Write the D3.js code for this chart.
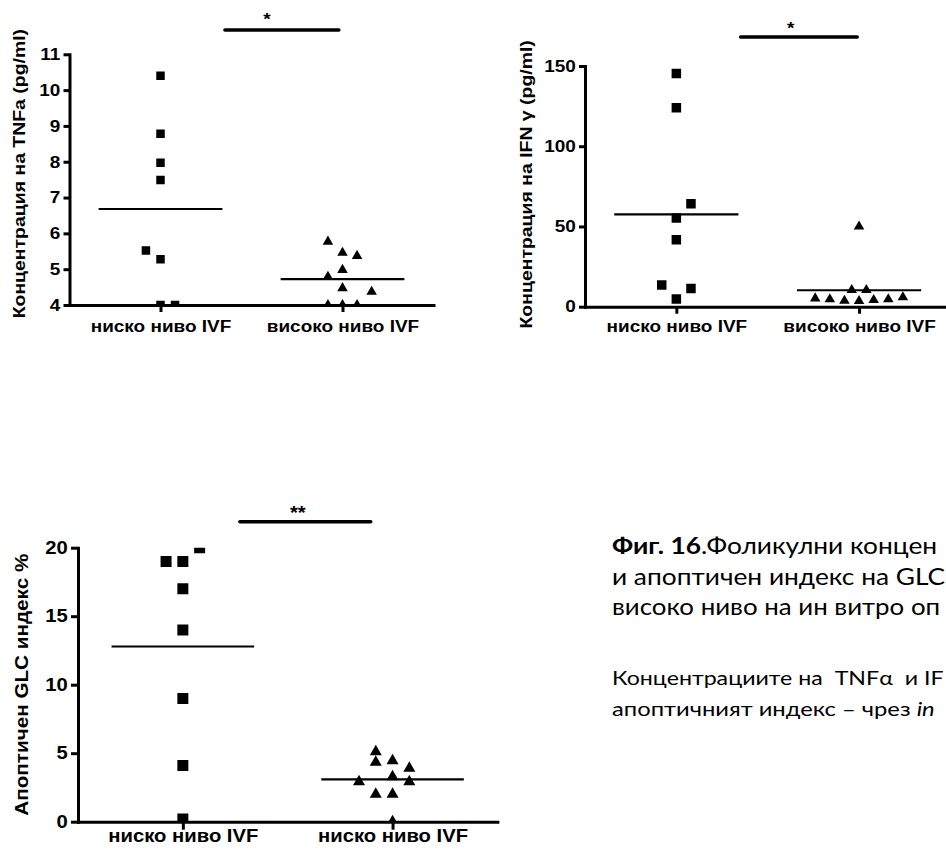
<!DOCTYPE html>
<html lang="bg">
<head>
    <meta charset="UTF-8">
    <title>Фиг. 16</title>
    <script src="https://d3js.org/d3.v7.min.js"></script>
    <style>
        body {
            margin: 0;
            background: #fff;
        }

        svg {
            display: block;
            font-family: "Liberation Sans", Arial, sans-serif;
            font-weight: bold;
        }

        .caption {
            font-family: Lato, "Open Sans", sans-serif;
            font-weight: normal;
        }
    </style>
</head>
<body>
    <svg id="fig" width="946" height="854"></svg>

    <script>
        // categories
        const catsIvf = ['ниско ниво IVF', 'високо ниво IVF'];
        const catsGlc = ['ниско ниво IVF', 'ниско ниво IVF'];

        // TNFa (pg/ml); lane = column-scatter slot of each point
        const tnfLow = [10.4, 8.78, 7.97, 7.49, 5.52, 5.28, 4.0, 4.0];
        const tnfLowLane = [0, 0, 0, 0, -1, 0, 0, 1];
        const tnfHigh = [5.77, 5.46, 5.37, 4.98, 4.79, 4.47, 4.37, 4.0, 4.0, 4.0];
        const tnfHighLane = [-1, 0, 1, 0, -1, 0, 2, -1, 0, 1];
        const tnfTicks = [4, 5, 6, 7, 8, 9, 10, 11];

        // IFN gamma (pg/ml)
        const ifnLow = [145.4, 124, 64.2, 55.2, 41.7, 13.6, 11.3, 4.8];
        const ifnLowLane = [0, 0, 1, 0, 0, -1, 1, 0];
        const ifnHigh = [50, 10.4, 10.4, 5.2, 4.6, 3.7, 3.5, 4.2, 4.6, 5.9];
        const ifnHighLane = [0, -0.5, 0.5, -3, -2, -1, 0, 1, 2, 3];
        const ifnTicks = [0, 50, 100, 150];

        // apoptotic GLC index %
        const glcLow = [19.0, 19.0, 20.0, 17.0, 14.0, 9.0, 4.1, 0.2];
        const glcLowLane = [-1, 0, 1, 0, 0, 0, 0, 0];
        const glcHigh = [5.11, 4.34, 4.45, 3.9, 2.92, 3.28, 2.92, 2.0, 2.0, 0.0];
        const glcHighLane = [-1, -1, 0, 1, -2, 0, 1, -1, 0, 0];
        const glcTicks = [0, 5, 10, 15, 20];

        const svg = d3.select('#fig');
        const sx = 1.15; // glyphs in the figure are wider than Arial

        function drawPanel(p) {
            const g = svg.append('g');
            const x = d3.scaleLinear().domain([0.5, 2.5]).range([p.left, p.left + p.unit * 2]);
            const y = d3.scaleLinear().domain(p.domain).range([p.bottom, p.top]);
            const lane = d3.scaleLinear().domain([0, 1]).range([0, 0.08]);

            const clipId = 'clip' + p.id;
            g.append('clipPath').attr('id', clipId)
                .append('rect')
                .attr('x', p.left).attr('y', p.top)
                .attr('width', p.unit * 2).attr('height', p.bottom - p.top);

            // points
            const pts = g.append('g').attr('clip-path', `url(#${clipId})`);
            const groups = [
                { c: 1, vals: p.low, lanes: p.lowLane, shape: d3.symbolSquare, size: p.sq * p.sq },
                { c: 2, vals: p.high, lanes: p.highLane, shape: d3.symbolTriangle, size: p.tri * p.tri * Math.sqrt(3) / 4 }
            ];
            groups.forEach(gr => {
                pts.selectAll(null)
                    .data(gr.vals)
                    .join('path')
                    .attr('d', d3.symbol(gr.shape, gr.size))
                    .attr('transform', (d, i) => `translate(${x(gr.c + lane(gr.lanes[i]))},${y(d)})`)
                    .attr('fill', '#000');

                const m = d3.mean(gr.vals);
                g.append('line')
                    .attr('x1', x(gr.c - 0.34)).attr('x2', x(gr.c + 0.34))
                    .attr('y1', y(m)).attr('y2', y(m))
                    .attr('stroke', '#000').attr('stroke-width', 2.2);
            });

            // y axis
            const ya = g.append('g')
                .attr('transform', `translate(${p.left},0)`)
                .call(d3.axisLeft(y).tickValues(p.ticks).tickFormat(d3.format('d'))
                    .tickSize(p.tick).tickSizeOuter(0).tickPadding(2));

            // x axis
            const xa = g.append('g')
                .attr('transform', `translate(0,${p.bottom})`)
                .call(d3.axisBottom(x).tickValues([1, 2]).tickFormat((d, i) => p.cats[i])
                    .tickSize(p.tick + 1).tickSizeOuter(0).tickPadding(p.xpad));

            [ya, xa].forEach(a => {
                a.attr('font-family', null).attr('font-size', null);
                a.select('.domain').attr('stroke-width', 3).attr('stroke-linecap', 'square');
                a.selectAll('.tick line').attr('stroke-width', 3);
                a.selectAll('.tick text')
                    .attr('fill', '#000')
                    .attr('font-size', p.font)
                    .attr('transform', `scale(${sx},1)`);
            });

            // y title
            g.append('text')
                .attr('transform', `translate(${p.titleX},${(p.top + p.bottom) / 2 + p.titleShift}) rotate(-90) scale(${sx},1)`)
                .attr('text-anchor', 'middle')
                .attr('font-size', p.font + 0.4)
                .text(p.title);

            // significance bar
            g.append('line')
                .attr('x1', x(p.sig[0])).attr('x2', x(p.sig[1]))
                .attr('y1', y(p.sigY)).attr('y2', y(p.sigY))
                .attr('stroke', '#000').attr('stroke-width', 3.5)
                .attr('stroke-linecap', 'round');
            g.append('text')
                .attr('transform', `translate(${x(p.starX)},${y(p.sigY) + p.starDy}) scale(${sx},1)`)
                .attr('text-anchor', 'middle')
                .attr('font-size', p.font)
                .text(p.star);
        }

        drawPanel({
            id: 1, left: 69.5, unit: 182, top: 54.3, bottom: 305,
            domain: [4, 11], ticks: tnfTicks, cats: catsIvf,
            low: tnfLow, lowLane: tnfLowLane, high: tnfHigh, highLane: tnfHighLane,
            sq: 8.5, tri: 10.5, font: 16.5, tick: 6, xpad: 8,
            title: 'Концентрация на TNFa (pg/ml)', titleX: 25, titleShift: -6,
            sig: [1.354, 1.98], sigY: 11.68, starX: 1.585, starDy: -5, star: '*'
        });

        drawPanel({
            id: 2, left: 585, unit: 182.7, top: 66, bottom: 306.7,
            domain: [0, 150], ticks: ifnTicks, cats: catsIvf,
            low: ifnLow, lowLane: ifnLowLane, high: ifnHigh, highLane: ifnHighLane,
            sq: 9.5, tri: 10.5, font: 16.5, tick: 6, xpad: 6.5,
            title: 'Концентрация на IFN γ (pg/ml)', titleX: 532, titleShift: -2,
            sig: [1.352, 1.99], sigY: 168, starX: 1.626, starDy: -3, star: '*'
        });

        drawPanel({
            id: 3, left: 78, unit: 209.7, top: 547.7, bottom: 821.7,
            domain: [0, 20], ticks: glcTicks, cats: catsGlc,
            low: glcLow, lowLane: glcLowLane, high: glcHigh, highLane: glcHighLane,
            sq: 11, tri: 12, font: 17.6, tick: 7, xpad: 0,
            title: 'Апоптичен GLC индекс %', titleX: 28, titleShift: 0,
            sig: [1.272, 1.896], sigY: 21.9, starX: 1.548, starDy: -3, star: '**'
        });

        // caption, cut at the right edge as in the source figure
        const cap = svg.append('g').attr('class', 'caption');
        const capLines = [
            { y: 554, size: 22.5, k: 1.17, parts: [{ t: 'Фиг. 16', b: true }, { t: '.Фоликулни концен' }] },
            { y: 584.5, size: 22.5, k: 1.17, parts: [{ t: 'и апоптичен индекс на GLC' }] },
            { y: 615, size: 22.5, k: 1.15, parts: [{ t: 'високо ниво на ин витро оп' }] },
            { y: 685, size: 19, k: 1.22, parts: [{ t: 'Концентрациите на  TNFα  и IF' }] },
            { y: 716, size: 19, k: 1.25, parts: [{ t: 'апоптичният индекс – чрез ' }, { t: 'in', i: true }] }
        ];
        capLines.forEach(l => {
            const t = cap.append('text')
                .attr('xml:space', 'preserve')
                .attr('transform', `translate(612,${l.y}) scale(${l.k},1)`)
                .attr('font-size', l.size);
            l.parts.forEach(pt => {
                t.append('tspan')
                    .attr('font-weight', pt.b ? 'bold' : 'normal')
                    .attr('font-style', pt.i ? 'italic' : 'normal')
                    .text(pt.t);
            });
        });
    </script>
</body>
</html>
